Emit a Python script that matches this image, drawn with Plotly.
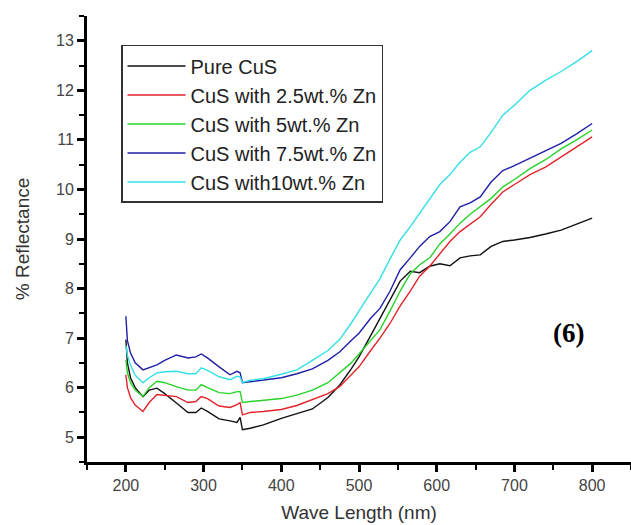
import plotly.graph_objects as go

wavelength = [200, 202, 206, 212, 222, 230, 240, 250, 265, 280, 290, 297, 305, 320, 334, 343, 347, 350,
              360, 377, 400, 420, 440, 460, 475, 490, 500, 515, 527, 540, 553, 566, 578, 591, 604, 617,
              630, 643, 656, 670, 685, 700, 720, 740, 760, 780, 800]

pure_cus = [6.97, 6.5, 6.2, 6.0, 5.82, 5.95, 5.99, 5.88, 5.69, 5.5, 5.5, 5.59, 5.52, 5.37, 5.33, 5.3, 5.4, 5.15,
            5.18, 5.25, 5.38, 5.47, 5.57, 5.8, 6.05, 6.38, 6.62, 7.05, 7.4, 7.8, 8.15, 8.35, 8.32, 8.45, 8.5, 8.46,
            8.62, 8.66, 8.68, 8.85, 8.95, 8.98, 9.03, 9.1, 9.18, 9.3, 9.42]

zn_2_5 = [6.26, 6.0, 5.8, 5.65, 5.52, 5.7, 5.86, 5.85, 5.82, 5.7, 5.72, 5.82, 5.78, 5.63, 5.6, 5.66, 5.7, 5.45,
          5.5, 5.52, 5.56, 5.64, 5.76, 5.88, 6.02, 6.25, 6.42, 6.75, 7.0, 7.3, 7.65, 7.95, 8.25, 8.45, 8.7, 8.95,
          9.15, 9.3, 9.45, 9.7, 9.95, 10.1, 10.3, 10.45, 10.65, 10.85, 11.06]

zn_5 = [6.56, 6.3, 6.1, 5.95, 5.82, 6.0, 6.13, 6.1, 6.02, 5.95, 5.95, 6.06, 6.0, 5.9, 5.88, 5.92, 5.92, 5.7,
        5.72, 5.75, 5.78, 5.85, 5.95, 6.1, 6.3, 6.5, 6.68, 6.95, 7.17, 7.55, 7.95, 8.3, 8.48, 8.62, 8.9, 9.1,
        9.32, 9.5, 9.65, 9.82, 10.05, 10.2, 10.42, 10.6, 10.82, 11.0, 11.2]

zn_7_5 = [7.44, 6.95, 6.7, 6.5, 6.36, 6.4, 6.46, 6.55, 6.66, 6.6, 6.62, 6.68, 6.6, 6.42, 6.26, 6.33, 6.3, 6.1,
          6.12, 6.16, 6.2, 6.28, 6.38, 6.55, 6.72, 6.95, 7.1, 7.4, 7.6, 7.95, 8.38, 8.62, 8.85, 9.05, 9.15, 9.35,
          9.65, 9.73, 9.85, 10.15, 10.38, 10.48, 10.63, 10.78, 10.93, 11.12, 11.33]

zn_10 = [6.85, 6.65, 6.45, 6.25, 6.1, 6.2, 6.3, 6.32, 6.33, 6.28, 6.28, 6.4, 6.35, 6.22, 6.16, 6.23, 6.22, 6.1,
         6.15, 6.18, 6.27, 6.36, 6.55, 6.75, 6.97, 7.3, 7.55, 7.9, 8.2, 8.6, 8.98, 9.25, 9.52, 9.8, 10.1, 10.3,
         10.55, 10.75, 10.86, 11.15, 11.5, 11.7, 12.0, 12.2, 12.38, 12.58, 12.8]

series_names = ["Pure CuS", "CuS with 2.5wt.% Zn", "CuS with 5wt.% Zn", "CuS with 7.5wt.% Zn", "CuS with10wt.% Zn"]
series_values = [pure_cus, zn_2_5, zn_5, zn_7_5, zn_10]
series_colors = ["#111111", "#e3222a", "#28d228", "#1f1fa8", "#33e0e6"]

fig = go.Figure()
for name, vals, col in zip(series_names, series_values, series_colors):
    fig.add_trace(go.Scatter(x=wavelength, y=vals, mode="lines", name=name,
                             line=dict(color=col, width=1.4)))

axis_common = dict(showline=True, linecolor="black", linewidth=3, mirror=False,
                   ticks="outside", tickcolor="black", tickwidth=2.5, ticklen=7,
                   showgrid=False, zeroline=False,
                   tickfont=dict(family="Liberation Sans, Arial", size=16, color="#444444"))

fig.update_xaxes(range=[150, 850], tick0=200, dtick=100,
                 minor=dict(ticks="outside", tick0=150, dtick=50, ticklen=5, tickwidth=2, tickcolor="black"),
                 title=dict(text="Wave Length (nm)", standoff=13,
                            font=dict(family="Liberation Sans, Arial", size=19, color="#333333")),
                 **axis_common)
fig.update_yaxes(range=[4.5, 13.5], tick0=5, dtick=1,
                 minor=dict(ticks="outside", tick0=4.5, dtick=0.5, ticklen=5, tickwidth=2, tickcolor="black"),
                 title=dict(text="% Reflectance", standoff=22,
                            font=dict(family="Liberation Sans, Arial", size=19, color="#333333")),
                 **axis_common)

fig.add_annotation(x=769, y=7.1, xref="x", yref="y", text="<b>(6)</b>", showarrow=False,
                   font=dict(family="Liberation Serif, Times New Roman", size=27, color="black"))

fig.update_layout(
    width=631, height=525,
    margin=dict(l=87, r=0, t=16, b=63),
    plot_bgcolor="white", paper_bgcolor="white",
    legend=dict(x=0.0625, y=0.935, xanchor="left", yanchor="top",
                bordercolor="#333333", borderwidth=1.5, bgcolor="white",
                itemwidth=58,
                font=dict(family="Liberation Sans, Arial", size=20, color="#222222")),
)

fig.write_html("out.html")
